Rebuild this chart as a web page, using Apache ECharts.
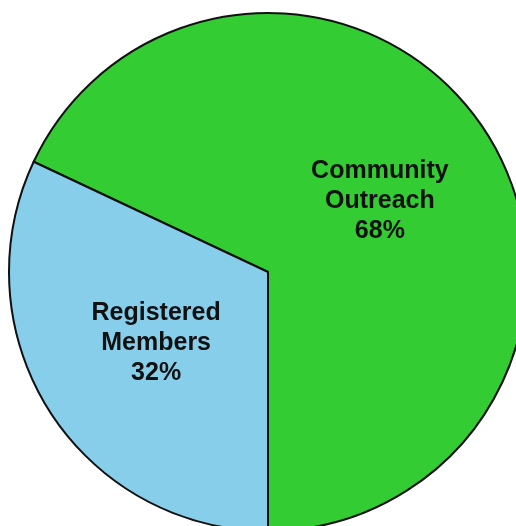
<!DOCTYPE html>
<html>
<head>
<meta charset="utf-8">
<script src="https://cdn.jsdelivr.net/npm/echarts@6/dist/echarts.min.js"></script>
<style>
html,body{margin:0;padding:0;background:#fff;}
#c{width:516px;height:526px;}
</style>
</head>
<body>
<div id="c"></div>
<script>
const categories = ['Community Outreach', 'Registered Members'];
const shares = [68, 32];
const sliceColors = ['#33cc33', '#87ceeb'];

const chart = echarts.init(document.getElementById('c'), null, {renderer: 'canvas'});
chart.setOption({
  animation: false,
  backgroundColor: '#ffffff',
  series: [{
    type: 'pie',
    center: [268, 272],
    radius: [0, 259],
    startAngle: 154.8,
    clockwise: true,
    avoidLabelOverlap: false,
    itemStyle: { borderColor: '#111', borderWidth: 2 },
    label: {
      show: true,
      position: 'inside',
      formatter: p => p.name.replace(' ', '\n') + '\n' + Math.round(p.percent) + '%',
      fontFamily: '"Liberation Sans", Arial, sans-serif',
      fontWeight: 'bold',
      fontSize: 25,
      lineHeight: 30,
      color: '#111'
    },
    labelLine: { show: false },
    emphasis: { disabled: true },
    data: categories.map((n, i) => ({ name: n, value: shares[i], itemStyle: { color: sliceColors[i] } }))
  }]
});
</script>
</body>
</html>
